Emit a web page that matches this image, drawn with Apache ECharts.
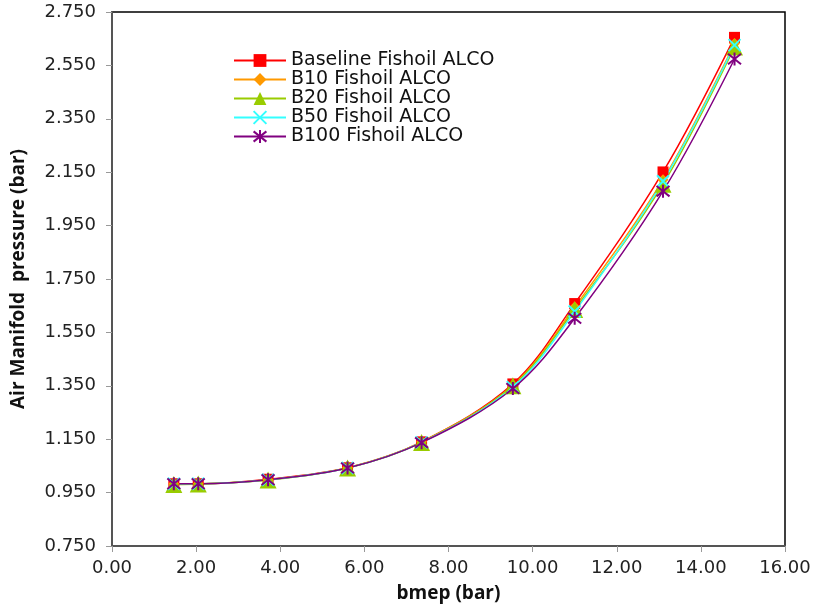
<!DOCTYPE html>
<html><head><meta charset="utf-8">
<script src="https://cdn.jsdelivr.net/npm/echarts@6/dist/echarts.min.js"></script>
<style>html,body{margin:0;padding:0;background:#fff}#c{width:815px;height:608px}</style>
</head><body><div id="c"></div>
<script>
var bmep = [1.47, 2.05, 3.71, 5.60, 7.36, 9.53, 11.00, 13.10, 14.80];
var baseline = [0.983, 0.983, 1.000, 1.043, 1.140, 1.357, 1.658, 2.151, 2.655];
var b10 = [0.983, 0.983, 0.998, 1.043, 1.140, 1.352, 1.645, 2.122, 2.632];
var b20 = [0.980, 0.982, 0.997, 1.042, 1.138, 1.350, 1.636, 2.105, 2.619];
var b50 = [0.983, 0.983, 0.998, 1.042, 1.138, 1.345, 1.628, 2.116, 2.626];
var b100 = [0.983, 0.983, 0.998, 1.042, 1.137, 1.340, 1.603, 2.079, 2.574];
var names = ['Baseline Fishoil ALCO', 'B10 Fishoil ALCO', 'B20 Fishoil ALCO', 'B50 Fishoil ALCO', 'B100 Fishoil ALCO'];
var xTitle = 'bmep (bar)';
var yTitle = 'Air Manifold  pressure (bar)';

function pairs(ys){ return ys.map(function(v,i){ return [bmep[i], v]; }); }
var font = '"Open Sans", "Noto Sans", sans-serif';
var wide = '"DejaVu Sans", sans-serif';
var cfg = [
  {d: baseline, c: '#ff0000', s: 'rect', z: 11, fill: true},
  {d: b10, c: '#ff9900', s: 'diamond', z: 11, fill: true},
  {d: b20, c: '#99cc00', s: 'triangle', z: 17, fill: true},
  {d: b50, c: '#33ffff', s: 'path://M0,0L10,10M10,0L0,10', z: 12, fill: false},
  {d: b100, c: '#800080', s: 'path://M5,0L5,10M0,1L10,9M10,1L0,9', z: 13, fill: false}
];
var series = cfg.map(function(o, i){
  return {
    name: names[i], type: 'line', smooth: 0.35, data: pairs(o.d),
    symbol: o.s, symbolSize: o.z, showSymbol: true,
    lineStyle: {color: o.c, width: 1.5},
    itemStyle: o.fill ? {color: o.c, borderWidth: 0} : {color: 'rgba(0,0,0,0)', borderColor: o.c, borderWidth: 2},
    emphasis: {disabled: true}, animation: false
  };
});
var chart = echarts.init(document.getElementById('c'));
chart.setOption({
  animation: false,
  backgroundColor: '#fff',
  grid: {left: 112, right: 30, top: 12, bottom: 62, containLabel: false,
         show: true, borderColor: '#000', borderWidth: 1.5},
  legend: {
    orient: 'vertical', left: 228, top: 46, itemWidth: 52, itemHeight: 16, itemGap: 0,
    textStyle: {fontFamily: wide, fontSize: 19, lineHeight: 17, color: '#111'},
    data: names
  },
  xAxis: {
    type: 'value', min: 0, max: 16, interval: 2,
    name: xTitle, nameLocation: 'middle', nameGap: 38,
    nameTextStyle: {fontFamily: font, fontSize: 19, fontWeight: 'bold', color: '#111'},
    axisLine: {show: true, lineStyle: {color: '#555', width: 2}},
    axisTick: {show: true, length: 6, lineStyle: {color: '#999'}},
    splitLine: {show: false},
    axisLabel: {fontFamily: wide, fontSize: 18, color: '#222', margin: 13,
                formatter: function(v){ return v.toFixed(2); }}
  },
  yAxis: {
    type: 'value', min: 0.75, max: 2.75, interval: 0.2,
    name: yTitle, nameLocation: 'middle', nameGap: 84, nameRotate: 90,
    nameTextStyle: {fontFamily: font, fontSize: 19, fontWeight: 'bold', color: '#111'},
    axisLine: {show: true, lineStyle: {color: '#555', width: 2}},
    axisTick: {show: true, length: 6, lineStyle: {color: '#999'}},
    splitLine: {show: false},
    axisLabel: {fontFamily: wide, fontSize: 18, color: '#222', margin: 16,
                formatter: function(v){ return v.toFixed(3); }}
  },
  series: series
});
</script></body></html>
